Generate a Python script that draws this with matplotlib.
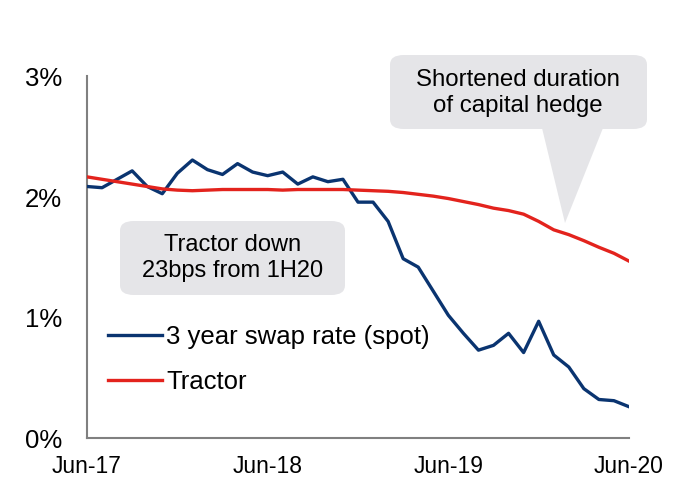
import matplotlib
matplotlib.use('Agg')
import matplotlib.pyplot as plt
from matplotlib.patches import FancyBboxPatch, Polygon
import numpy as np

plt.rcParams['font.family'] = ['Liberation Sans', 'DejaVu Sans']

# monthly points Jun-17 .. Jun-20
months = np.arange(37)
tick_pos = [0, 12, 24, 36]
tick_labels = ['Jun-17', 'Jun-18', 'Jun-19', 'Jun-20']

swap_3y = [2.09, 2.08, 2.15, 2.22, 2.09, 2.03, 2.20, 2.31, 2.23, 2.19,
           2.28, 2.21, 2.18, 2.21, 2.11, 2.17, 2.13, 2.15, 1.96, 1.96,
           1.80, 1.49, 1.42, 1.22, 1.02, 0.87, 0.73, 0.77, 0.87, 0.71,
           0.97, 0.69, 0.59, 0.41, 0.32, 0.31, 0.26]
tractor = [2.17, 2.15, 2.13, 2.11, 2.09, 2.07, 2.06, 2.055, 2.06, 2.065,
           2.065, 2.065, 2.065, 2.06, 2.065, 2.065, 2.065, 2.065, 2.06, 2.055,
           2.05, 2.04, 2.025, 2.01, 1.99, 1.965, 1.94, 1.91, 1.89, 1.86,
           1.80, 1.73, 1.69, 1.64, 1.585, 1.535, 1.47]

blue = '#0a3470'
red = '#e3231d'
grey_box = '#e5e5e8'

W, H = 690, 487
fig = plt.figure(figsize=(W / 100, H / 100), dpi=100)
ax = fig.add_axes([87 / W, 1 - 438 / H, (629 - 87) / W, (438 - 77) / H])

ax.plot(months, swap_3y, color=blue, lw=2.4, label='3 year swap rate (spot)', zorder=3)
ax.plot(months, tractor, color=red, lw=2.4, label='Tractor', zorder=3)

ax.set_xlim(0, 36)
ax.set_ylim(0, 3)
ax.set_yticks([0, 1, 2, 3])
ax.set_yticklabels(['0%', '1%', '2%', '3%'])
ax.set_xticks(tick_pos)
ax.set_xticklabels(tick_labels)
ax.tick_params(axis='y', length=0, labelsize=18.5, pad=18)
ax.tick_params(axis='x', length=0, labelsize=16.5, pad=12)
for s in ['top', 'right']:
    ax.spines[s].set_visible(False)
for s in ['left', 'bottom']:
    ax.spines[s].set_color('#808080')
    ax.spines[s].set_linewidth(1.5)
ax.spines['left'].set_bounds(0, 3.01)

# legend
leg = ax.legend(loc='upper left', bbox_to_anchor=(11 / 542, (438 - 315) / 361),
                frameon=False, fontsize=18.5, handlelength=2.1, handletextpad=0.15,
                labelspacing=0.82, borderaxespad=0)

# callout boxes in pixel coords
def px(x, y):
    return (x / W, 1 - y / H)

tr = fig.transFigure
b1 = FancyBboxPatch(px(390, 129), (647 - 390) / W, (129 - 55) / H,
                    boxstyle='round,pad=0,rounding_size=0.02', transform=tr,
                    fc=grey_box, ec='none', zorder=1)
fig.patches.append(b1)
tri = Polygon([px(542, 128), px(603, 128), px(565, 223)], closed=True,
              transform=tr, fc=grey_box, ec='none', zorder=1)
fig.patches.append(tri)
fig.text(518 / W, 1 - 93 / H, 'Shortened duration\nof capital hedge', ha='center',
         va='center', fontsize=17.3, linespacing=1.25)

b2 = FancyBboxPatch(px(120, 295), (345 - 120) / W, (295 - 221) / H,
                    boxstyle='round,pad=0,rounding_size=0.02', transform=tr,
                    fc=grey_box, ec='none', zorder=1)
fig.patches.append(b2)
fig.text(233 / W, 1 - 258 / H, 'Tractor down\n23bps from 1H20', ha='center',
         va='center', fontsize=17, linespacing=1.25)

fig.savefig('out.png', dpi=100)
